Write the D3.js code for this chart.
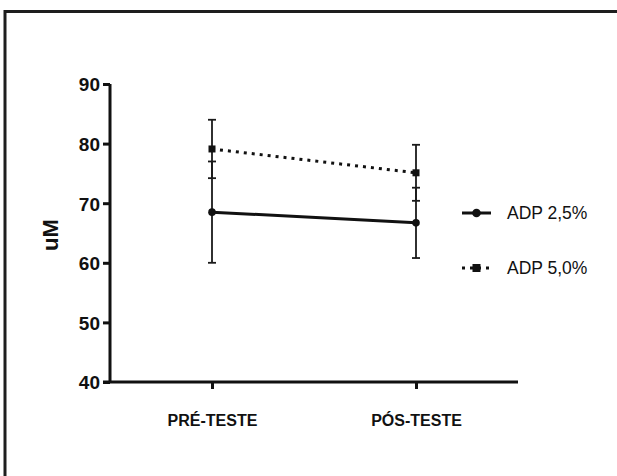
<!DOCTYPE html>
<html>
<head>
<meta charset="utf-8">
<script src="https://cdn.jsdelivr.net/npm/d3@7"></script>
<style>
  body { margin: 0; background: #fff; overflow: hidden; }
  svg { display: block; font-family: 'Liberation Sans', Arial, sans-serif; }
</style>
</head>
<body>
<div id="graf"></div>
<script>
// I. Datos
momentos = ['PRÉ-TESTE', 'PÓS-TESTE']
series = ['ADP 2,5%', 'ADP 5,0%']
media25 = [68.5, 66.7]
dp25 = [8.5, 5.9]
media50 = [79.1, 75.1]
dp50 = [4.9, 4.7]
yTicks = [40, 50, 60, 70, 80, 90]

// II. Configuración
ancho = 617
alto = 476
margins = { top: 84, left: 110, right: 99, bottom: 94 }

svg = d3.select('#graf').append('svg')
  .attr('width', ancho)
  .attr('height', alto)

// marco (solo arriba e izquierda quedan dentro de la imagen)
svg.append('path')
  .attr('d', `M5,${alto}V11.5H${ancho}`)
  .attr('fill', 'none')
  .attr('stroke', '#1e1e1e')
  .attr('stroke-width', 3)

x = d3.scalePoint()
  .domain(momentos)
  .range([margins.left, ancho - margins.right])
  .padding(0.5)

y = d3.scaleLinear()
  .domain([40, 90])
  .range([alto - margins.bottom, margins.top])

// ejes
yAxis = svg.append('g')
  .attr('transform', `translate(${margins.left}, 0)`)
  .call(d3.axisLeft(y).tickValues(yTicks).tickSize(7).tickPadding(3))
yAxis.selectAll('text')
  .style('font-size', '19px')
  .style('font-weight', 'bold')
  .attr('fill', '#111')
  .attr('dy', '0.36em')

xAxis = svg.append('g')
  .attr('transform', `translate(0, ${y(40)})`)
  .call(d3.axisBottom(x).tickSize(7).tickPadding(26))
xAxis.selectAll('text')
  .style('font-size', '16px')
  .style('font-weight', 'bold')
  .attr('fill', '#111')

svg.selectAll('.domain').attr('stroke', '#111').attr('stroke-width', 3)
svg.selectAll('.tick line').attr('stroke', '#111').attr('stroke-width', 3)

// la línea del eje x arranca en el tick de 40
xAxis.select('.domain')
  .attr('d', `M${margins.left - 7},0H${ancho - margins.right}`)
yAxis.select('.domain')
  .attr('d', `M0,${y(90)}V${y(40)}`)

svg.append('text')
  .attr('transform', `translate(58, ${(y(40) + y(90)) / 2 + 2}) rotate(-90)`)
  .attr('text-anchor', 'middle')
  .style('font-size', '22px')
  .style('font-weight', 'bold')
  .attr('fill', '#111')
  .text('uM')

// III. Series
datos = [
  { nombre: series[0], media: media25, dp: dp25, guion: null, forma: 'c' },
  { nombre: series[1], media: media50, dp: dp50, guion: '3,5', forma: 's' }
]

linea = d3.line()
  .x((d, i) => x(momentos[i]))
  .y(d => y(d))

datos.forEach(s => {
  // barras de error
  momentos.forEach((m, i) => {
    lo = s.media[i] - s.dp[i]
    hi = s.media[i] + s.dp[i]
    svg.append('line')
      .attr('x1', x(m)).attr('x2', x(m))
      .attr('y1', y(lo)).attr('y2', y(hi))
      .attr('stroke', '#1a1a1a').attr('stroke-width', 1.8)
    ;[lo, hi].forEach(v => {
      svg.append('line')
        .attr('x1', x(m) - 4).attr('x2', x(m) + 4)
        .attr('y1', y(v)).attr('y2', y(v))
        .attr('stroke', '#1a1a1a').attr('stroke-width', 1.8)
    })
  })

  svg.append('path')
    .datum(s.media)
    .attr('d', linea)
    .attr('fill', 'none')
    .attr('stroke', '#111')
    .attr('stroke-width', 3)
    .attr('stroke-dasharray', s.guion)
})

function marcador(g, forma, cx, cy, t) {
  if (forma == 'c') {
    g.append('circle').attr('cx', cx).attr('cy', cy).attr('r', t / 2 + 0.3).attr('fill', '#111')
  } else {
    g.append('rect').attr('x', cx - t / 2).attr('y', cy - t / 2)
      .attr('width', t).attr('height', t).attr('fill', '#111')
  }
}

datos.forEach(s => {
  momentos.forEach((m, i) => marcador(svg, s.forma, x(m), y(s.media[i]), 7))
})

// IV. Leyenda
leyenda = svg.append('g')
datos.forEach((s, i) => {
  ly = 213 + i * 55
  leyenda.append('line')
    .attr('x1', 462).attr('x2', 491)
    .attr('y1', ly).attr('y2', ly)
    .attr('stroke', '#111')
    .attr('stroke-width', 3)
    .attr('stroke-dasharray', s.guion)
  marcador(leyenda, s.forma, 476.5, ly, 8)
  leyenda.append('text')
    .attr('x', 507)
    .attr('y', ly + 6)
    .style('font-size', '17.5px')
    .attr('fill', '#111')
    .text(s.nombre)
})
</script>
</body>
</html>
